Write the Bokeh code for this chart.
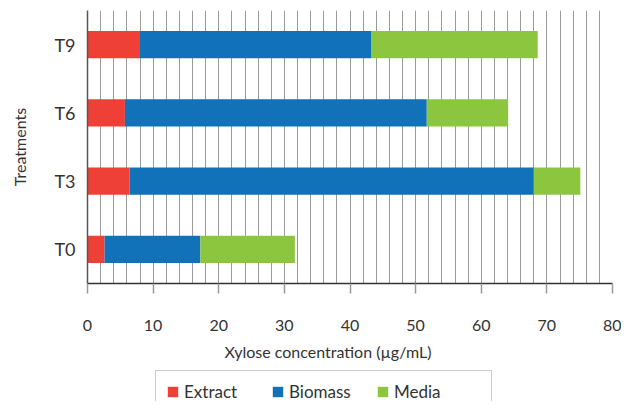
from bokeh.plotting import figure
from bokeh.layouts import column
from bokeh.models import (Range1d, FactorRange, SingleIntervalTicker, Legend, LegendItem, Title)
from bokeh.embed import file_html
from bokeh.resources import INLINE

treatments = ["T0", "T3", "T6", "T9"]
extract = [2.6, 6.4, 5.7, 8.0]
biomass = [14.6, 61.6, 46.0, 35.2]
media = [14.4, 7.1, 12.4, 25.4]
series = ["Extract", "Biomass", "Media"]
colors = ["#EE4036", "#1172BA", "#8CC63F"]
x_title = "Xylose concentration (\u00b5g/mL)"
y_title = "Treatments"

FONT = "Lato"
TXT = "#333333"

data = dict(t=treatments, Extract=extract, Biomass=biomass, Media=media)

p = figure(width=621, height=370, output_backend="svg", toolbar_location=None,
           title=None,
           y_range=FactorRange(factors=treatments, range_padding=0),
           x_range=Range1d(0, 80),
           min_border_left=87, min_border_right=9, min_border_top=10, min_border_bottom=87)

rs = p.hbar_stack(series, y="t", height=0.4, color=colors, line_color=None, source=data)

p.outline_line_color = None
p.background_fill_color = "white"
p.border_fill_color = "white"

# grid
p.ygrid.grid_line_color = None
p.xgrid.ticker = SingleIntervalTicker(interval=2)
p.xgrid.grid_line_color = "#9a9a9a"
p.xgrid.grid_line_width = 1

# x axis
xa = p.xaxis[0]
xa.ticker = SingleIntervalTicker(interval=10)
xa.axis_line_color = "#333333"
xa.axis_line_width = 1.5
xa.major_tick_line_color = "#9a9a9a"
xa.major_tick_line_width = 1.5
xa.major_tick_out = 10
xa.major_tick_in = 0
xa.minor_tick_line_color = None
xa.minor_tick_out = 0
xa.major_label_text_font = FONT
xa.major_label_text_font_size = "16px"
xa.major_label_text_color = TXT
xa.major_label_standoff = 26

# y axis
ya = p.yaxis[0]
ya.axis_line_color = "#555555"
ya.axis_line_width = 1.5
ya.major_tick_line_color = None
ya.minor_tick_line_color = None
ya.major_tick_out = 0
ya.minor_tick_out = 0
ya.major_label_text_font = FONT
ya.major_label_text_font_size = "18px"
ya.major_label_text_color = TXT
ya.major_label_standoff = 12
ya.axis_label = y_title
ya.axis_label_text_font = FONT
ya.axis_label_text_font_size = "16px"
ya.axis_label_text_font_style = "normal"
ya.axis_label_text_color = TXT
ya.axis_label_standoff = 22

# x-axis title as a positioned title
xt = Title(text=x_title, align="left", offset=137, standoff=12,
           text_font=FONT, text_font_size="16px", text_font_style="normal",
           text_color=TXT)
p.add_layout(xt, "below")

# legend in its own strip below the chart (frame aligned with the chart's frame)
lg = figure(width=621, height=31, output_backend="svg", toolbar_location=None,
            title=None, x_range=Range1d(0, 1), y_range=Range1d(0, 1),
            x_axis_location=None, y_axis_location=None,
            min_border_left=0, min_border_right=0, min_border_top=0, min_border_bottom=0)
lg.outline_line_color = None
lg.xgrid.grid_line_color = None
lg.ygrid.grid_line_color = None
# swatch renderers kept outside the visible range; only their legend glyphs show
swatches = [lg.rect(x=[-5], y=[-5], width=1, height=1, fill_color=c, line_color=None)
            for c in colors]

items = [LegendItem(label=s, renderers=[r]) for s, r in zip(series, swatches)]
legend = Legend(items=items, orientation="horizontal", location=(68, -12),
                label_text_font=FONT, label_text_font_size="17px", label_text_color=TXT,
                glyph_width=13, glyph_height=13, label_standoff=5, label_width=87,
                spacing=0, padding=10, margin=0,
                border_line_color="#999999", border_line_width=1.5,
                background_fill_alpha=1)
lg.add_layout(legend, "center")

open("out.html", "w").write(file_html(column(p, lg), INLINE))
